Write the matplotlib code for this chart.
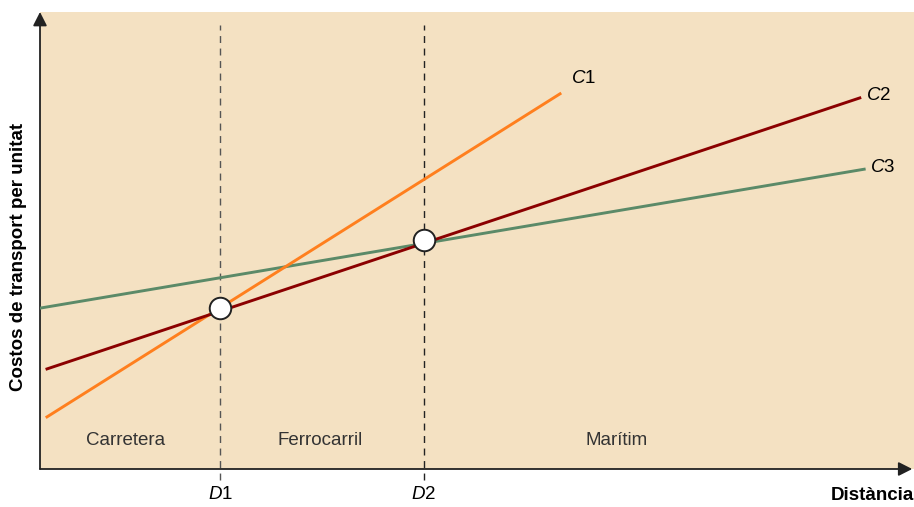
import matplotlib.pyplot as plt

plt.rcParams['font.family'] = ['Liberation Sans', 'DejaVu Sans']
plt.rcParams['mathtext.fontset'] = 'custom'
plt.rcParams['mathtext.it'] = 'Liberation Sans:italic'
plt.rcParams['mathtext.rm'] = 'Liberation Sans'

# distance (0-100) and cost per unit (0-100)
c1_x = [0.8, 59.5]
c1_y = [11.4, 82.1]
c2_x = [0.8, 93.8]
c2_y = [21.9, 81.2]
c3_x = [0.0, 94.3]
c3_y = [35.2, 65.6]

d_x = [20.6, 43.9]
d_labels = ['1', '2']
break_y = [35.2, 50.1]

zones = ['Carretera', 'Ferrocarril', 'Marítim']
zone_x = [9.8, 32.0, 66.0]

fig = plt.figure(figsize=(9.14, 5.07), dpi=100)
ax = fig.add_axes([40 / 914, 38 / 507, 874 / 914, 457 / 507])
ax.set_xlim(0, 100)
ax.set_ylim(0, 100)
ax.set_facecolor('#f4e1c2')
for s in ax.spines.values():
    s.set_visible(False)
ax.set_xticks([])
ax.set_yticks([])

# axes with arrows
arrow = dict(arrowstyle='-|>,head_length=0.75,head_width=0.38', color='#222222',
             lw=1.3, mutation_scale=11, shrinkA=0, shrinkB=0)
ax.annotate('', xy=(99.8, 0), xytext=(0, 0), arrowprops=arrow,
            annotation_clip=False)
ax.annotate('', xy=(0, 100), xytext=(0, 0), arrowprops=arrow,
            annotation_clip=False)

# dashed boundaries
dash_cols = ['#555555', '#222222']
for x, c in zip(d_x, dash_cols):
    ax.plot([x, x], [-2.4, 97.2], ls=(0, (5, 4)), color=c, lw=1.0,
            clip_on=False, zorder=2)

ax.plot(c3_x, c3_y, color='#5b8a68', lw=2.1, zorder=3)
ax.plot(c1_x, c1_y, color='#ff7f1e', lw=2.1, zorder=3)
ax.plot(c2_x, c2_y, color='#8b0000', lw=2.1, zorder=4)

ax.plot(d_x, break_y, 'o', ms=15.5, mfc='white', mec='#222222', mew=1.4,
        zorder=5)

# curve labels
ax.text(c1_x[1] + 1.2, c1_y[1] + 1.4, '$C$1', fontsize=13.5, ha='left', va='bottom')
ax.text(c2_x[1] + 0.7, c2_y[1] + 0.5, '$C$2', fontsize=13.5, ha='left', va='center')
ax.text(c3_x[1] + 0.7, c3_y[1] + 0.3, '$C$3', fontsize=13.5, ha='left', va='center')

for x, lab in zip(d_x, d_labels):
    ax.text(x, -5.6, '$D$' + lab, fontsize=13.5, ha='center', va='center')

for x, z in zip(zone_x, zones):
    ax.text(x, 6.3, z, fontsize=13.5, color='#333333', ha='center', va='center')

ax.text(100, -5.8, 'Distància', fontsize=13.5, fontweight='bold', ha='right',
        va='center')
fig.text(19 / 914, 1 - 257 / 507, 'Costos de transport per unitat', fontsize=13.5,
         fontweight='bold', rotation=90, ha='center', va='center')

fig.savefig('out.png', dpi=100)
